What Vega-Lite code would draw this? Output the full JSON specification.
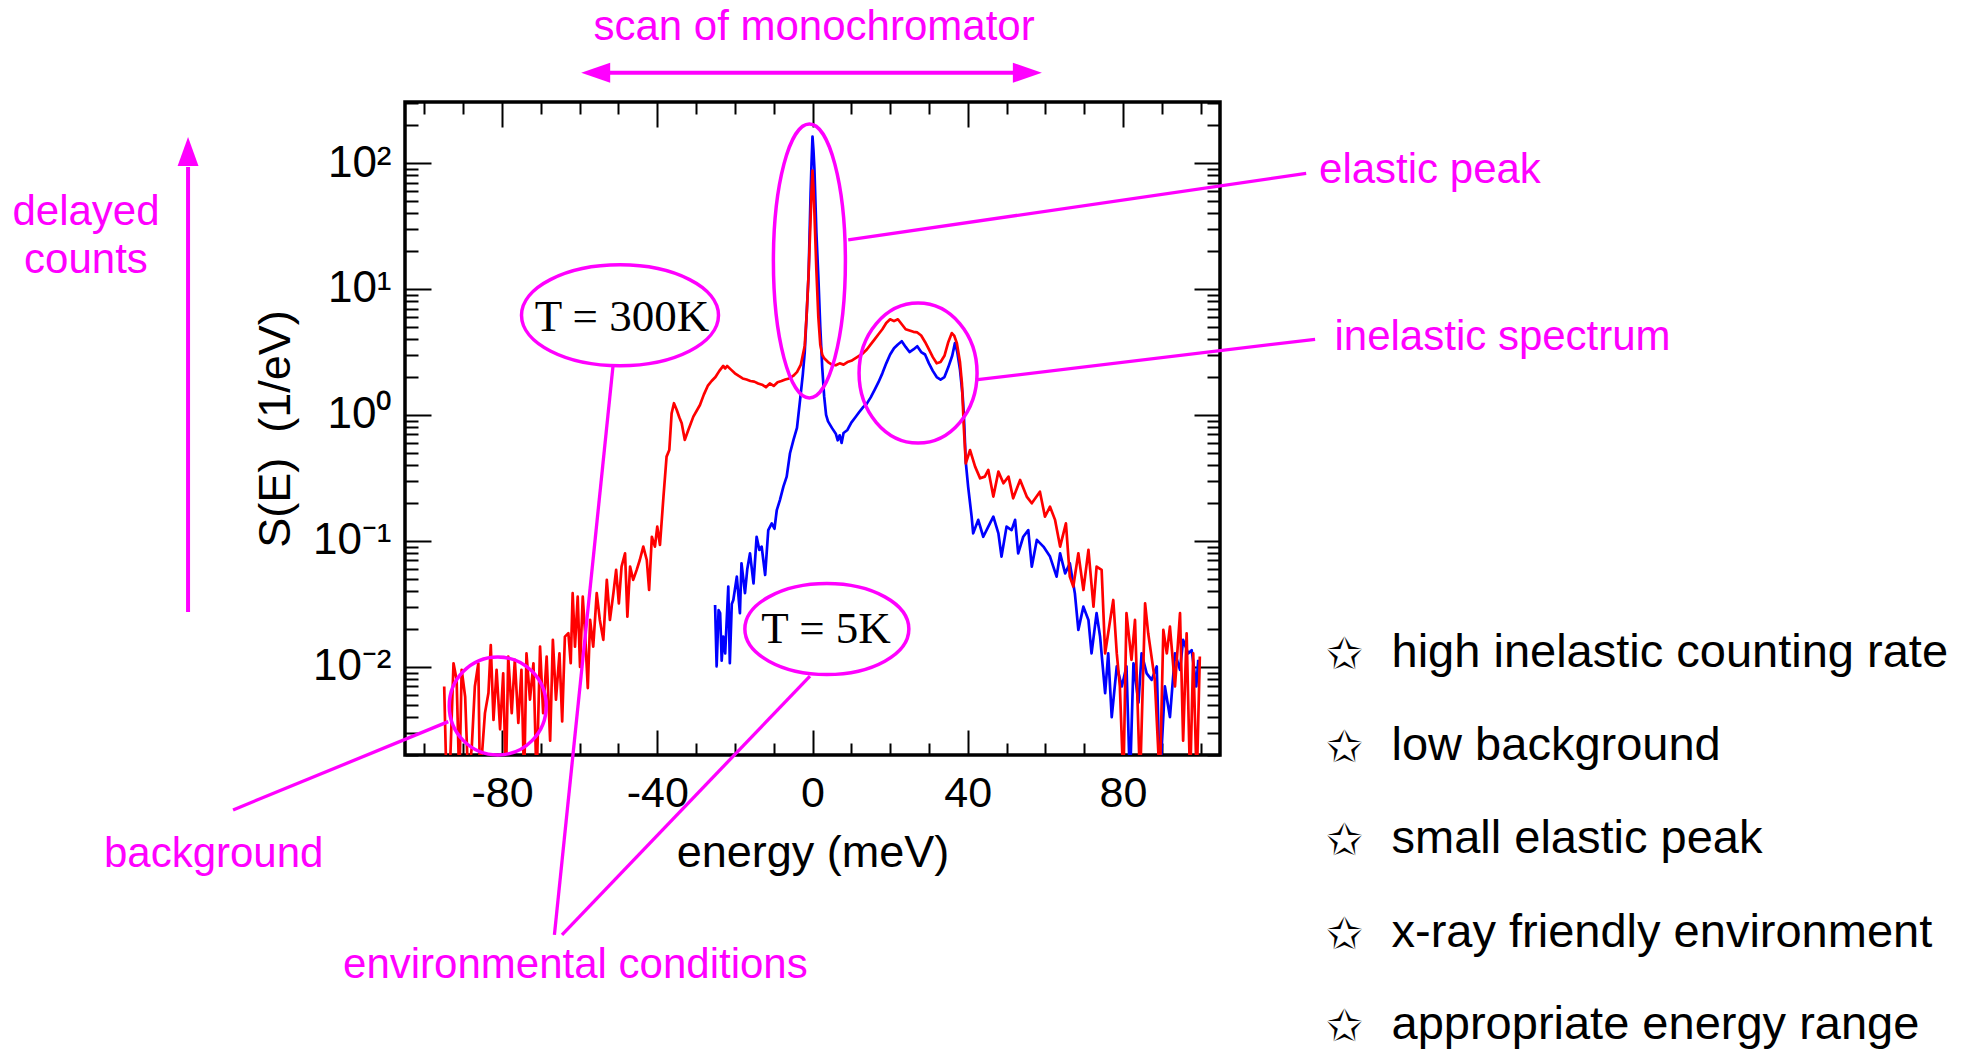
{
  "$schema": "https://vega.github.io/schema/vega-lite/v6.json",
  "width": 815,
  "height": 653,
  "autosize": {"type": "none"},
  "padding": {"left": 405, "top": 102, "right": 746, "bottom": 296},
  "background": "white",
  "config": {
    "view": {"stroke": "black", "strokeWidth": 3.5},
    "font": "Liberation Sans"
  },
  "datasets": {
    "T5K": [
      {"E":-25.1,"S":0.031},{"E":-24.7,"S":0.0101},{"E":-24.2,"S":0.0282},{"E":-23.8,"S":0.0267},{"E":-23.4,"S":0.0112},{"E":-23.0,"S":0.0174},{"E":-22.5,"S":0.0128},{"E":-21.7,"S":0.0435},{"E":-21.3,"S":0.0107},{"E":-20.8,"S":0.0316},{"E":-20.4,"S":0.034},{"E":-19.5,"S":0.0521},{"E":-18.7,"S":0.0267},{"E":-18.3,"S":0.0665},{"E":-17.4,"S":0.0385},{"E":-16.8,"S":0.06},{"E":-16.1,"S":0.0798},{"E":-15.2,"S":0.0461},{"E":-14.4,"S":0.108},{"E":-13.7,"S":0.085},{"E":-13.1,"S":0.0902},{"E":-12.2,"S":0.0537},{"E":-11.4,"S":0.122},{"E":-10.5,"S":0.138},{"E":-9.8,"S":0.125},{"E":-9.2,"S":0.176},{"E":-8.4,"S":0.211},{"E":-7.5,"S":0.27},{"E":-6.65,"S":0.324},{"E":-5.8,"S":0.497},{"E":-4.9,"S":0.634},{"E":-4.0,"S":0.79},{"E":-3.2,"S":1.32},{"E":-2.5,"S":2.09},{"E":-2.0,"S":3.16},{"E":-1.5,"S":6.31},{"E":-1.0,"S":13.2},{"E":-0.5,"S":56},{"E":-0.25,"S":100},{"E":0,"S":162},{"E":0.25,"S":126},{"E":0.5,"S":89},{"E":1.0,"S":28},{"E":1.5,"S":12.6},{"E":2.0,"S":5.0},{"E":2.5,"S":2.4},{"E":3.0,"S":1.41},{"E":3.5,"S":1.0},{"E":4.0,"S":0.89},{"E":5.0,"S":0.79},{"E":6.0,"S":0.71},{"E":6.5,"S":0.63},{"E":7.0,"S":0.69},{"E":7.5,"S":0.6},{"E":8.0,"S":0.72},{"E":9.0,"S":0.76},{"E":10.0,"S":0.87},{"E":11.0,"S":0.955},{"E":12.0,"S":1.05},{"E":13.0,"S":1.15},{"E":14.0,"S":1.23},{"E":15.0,"S":1.38},{"E":16.0,"S":1.58},{"E":17.0,"S":1.82},{"E":18.0,"S":2.14},{"E":19.0,"S":2.57},{"E":20.0,"S":3.02},{"E":21.0,"S":3.39},{"E":22.0,"S":3.63},{"E":23.0,"S":3.85},{"E":24.0,"S":3.47},{"E":25.0,"S":3.16},{"E":26.0,"S":3.31},{"E":27.0,"S":3.51},{"E":28.0,"S":3.16},{"E":29.0,"S":3.02},{"E":30.0,"S":2.57},{"E":31.0,"S":2.24},{"E":32.0,"S":2.0},{"E":33.0,"S":1.91},{"E":34.0,"S":2.0},{"E":35.0,"S":2.4},{"E":36.0,"S":2.95},{"E":36.7,"S":3.72},{"E":37.3,"S":3.16},{"E":38.0,"S":2.29},{"E":38.7,"S":1.41},{"E":39.0,"S":1.0},{"E":39.5,"S":0.42},{"E":40.1,"S":0.27},{"E":41.0,"S":0.156},{"E":41.4,"S":0.115},{"E":42.7,"S":0.147},{"E":44.0,"S":0.108},{"E":45.3,"S":0.13},{"E":46.6,"S":0.156},{"E":47.9,"S":0.115},{"E":48.7,"S":0.0752},{"E":50.0,"S":0.13},{"E":51.3,"S":0.122},{"E":52.2,"S":0.147},{"E":53.0,"S":0.0798},{"E":54.3,"S":0.108},{"E":55.6,"S":0.122},{"E":56.5,"S":0.0625},{"E":57.8,"S":0.102},{"E":59.5,"S":0.0902},{"E":61.2,"S":0.0752},{"E":62.9,"S":0.0521},{"E":63.8,"S":0.0798},{"E":65.1,"S":0.0553},{"E":66.3,"S":0.0665},{"E":67.6,"S":0.0385},{"E":68.5,"S":0.0197},{"E":69.8,"S":0.0301},{"E":71.1,"S":0.0236},{"E":71.9,"S":0.0128},{"E":73.2,"S":0.0267},{"E":74.1,"S":0.0174},{"E":75.4,"S":0.0062},{"E":76.2,"S":0.0128},{"E":77.1,"S":0.004},{"E":78.4,"S":0.0101},{"E":79.7,"S":0.007},{"E":80.9,"S":0.0101},{"E":81.8,"S":0.0012},{"E":82.7,"S":0.0107},{"E":84.0,"S":0.0052},{"E":84.8,"S":0.0128},{"E":86.1,"S":0.0089},{"E":87.4,"S":0.0079},{"E":88.7,"S":0.0101},{"E":89.5,"S":0.0012},{"E":90.8,"S":0.007},{"E":92.1,"S":0.004},{"E":93.4,"S":0.0128},{"E":94.7,"S":0.0095},{"E":95.5,"S":0.0164},{"E":96.8,"S":0.0128},{"E":97.7,"S":0.0136},{"E":98.9,"S":0.007},{"E":99.4,"S":0.0114}
    ],
    "T300K": [
      {"E":-94.9,"S":0.007},{"E":-94.3,"S":0.0012},{"E":-93.4,"S":0.0016},{"E":-92.5,"S":0.0107},{"E":-91.7,"S":0.0079},{"E":-91.0,"S":0.0012},{"E":-90.4,"S":0.0095},{"E":-89.5,"S":0.0058},{"E":-88.7,"S":0.0012},{"E":-87.8,"S":0.0023},{"E":-87.0,"S":0.007},{"E":-86.1,"S":0.0107},{"E":-85.7,"S":0.0012},{"E":-84.4,"S":0.0043},{"E":-83.5,"S":0.0062},{"E":-82.9,"S":0.0149},{"E":-82.2,"S":0.0038},{"E":-81.4,"S":0.0095},{"E":-80.5,"S":0.0032},{"E":-79.7,"S":0.0089},{"E":-79.0,"S":0.0012},{"E":-78.4,"S":0.0121},{"E":-77.5,"S":0.0043},{"E":-76.7,"S":0.0114},{"E":-75.8,"S":0.0036},{"E":-75.0,"S":0.0095},{"E":-74.3,"S":0.0012},{"E":-73.7,"S":0.0128},{"E":-72.8,"S":0.0055},{"E":-71.9,"S":0.0107},{"E":-71.1,"S":0.0012},{"E":-70.2,"S":0.0145},{"E":-69.4,"S":0.0043},{"E":-68.5,"S":0.0121},{"E":-67.6,"S":0.0026},{"E":-66.9,"S":0.0164},{"E":-66.1,"S":0.0055},{"E":-65.2,"S":0.0128},{"E":-64.5,"S":0.0037},{"E":-63.8,"S":0.0174},{"E":-62.9,"S":0.0185},{"E":-62.3,"S":0.0107},{"E":-61.8,"S":0.0385},{"E":-61.2,"S":0.0145},{"E":-60.5,"S":0.0361},{"E":-59.9,"S":0.01},{"E":-59.2,"S":0.0361},{"E":-58.6,"S":0.0185},{"E":-57.9,"S":0.0068},{"E":-57.3,"S":0.0236},{"E":-56.5,"S":0.0145},{"E":-55.6,"S":0.0385},{"E":-54.8,"S":0.0236},{"E":-53.9,"S":0.0164},{"E":-53.0,"S":0.0491},{"E":-52.2,"S":0.0236},{"E":-51.3,"S":0.0385},{"E":-50.6,"S":0.0589},{"E":-49.9,"S":0.032},{"E":-49.2,"S":0.0625},{"E":-48.3,"S":0.0798},{"E":-47.7,"S":0.0251},{"E":-47.0,"S":0.0625},{"E":-46.2,"S":0.0491},{"E":-45.3,"S":0.0589},{"E":-44.5,"S":0.0706},{"E":-43.6,"S":0.0902},{"E":-42.7,"S":0.0706},{"E":-42.1,"S":0.0408},{"E":-41.4,"S":0.108},{"E":-40.6,"S":0.0902},{"E":-40.0,"S":0.13},{"E":-39.3,"S":0.0929},{"E":-38.4,"S":0.225},{"E":-37.6,"S":0.467},{"E":-36.9,"S":0.527},{"E":-36.3,"S":1.03},{"E":-35.7,"S":1.24},{"E":-35.0,"S":1.1},{"E":-34.3,"S":0.955},{"E":-33.7,"S":0.859},{"E":-32.9,"S":0.634},{"E":-32.0,"S":0.76},{"E":-30.7,"S":0.97},{"E":-29.0,"S":1.2},{"E":-28.0,"S":1.45},{"E":-27.0,"S":1.7},{"E":-26.0,"S":1.86},{"E":-25.0,"S":2.0},{"E":-24.0,"S":2.24},{"E":-23.0,"S":2.45},{"E":-22.5,"S":2.34},{"E":-22.0,"S":2.45},{"E":-21.0,"S":2.29},{"E":-20.0,"S":2.14},{"E":-19.0,"S":2.04},{"E":-18.0,"S":1.95},{"E":-17.0,"S":1.91},{"E":-16.0,"S":1.86},{"E":-15.0,"S":1.84},{"E":-14.0,"S":1.78},{"E":-13.0,"S":1.74},{"E":-12.0,"S":1.66},{"E":-11.0,"S":1.78},{"E":-10.0,"S":1.7},{"E":-9.0,"S":1.82},{"E":-8.0,"S":1.86},{"E":-7.0,"S":1.91},{"E":-6.0,"S":1.95},{"E":-5.0,"S":2.04},{"E":-4.0,"S":2.19},{"E":-3.0,"S":2.51},{"E":-2.0,"S":3.55},{"E":-1.5,"S":6.31},{"E":-1.0,"S":13.2},{"E":-0.5,"S":35.5},{"E":-0.25,"S":60},{"E":0,"S":87},{"E":0.25,"S":63},{"E":0.5,"S":40},{"E":1.0,"S":14.1},{"E":1.5,"S":6.0},{"E":2.0,"S":3.63},{"E":2.5,"S":3.02},{"E":3.0,"S":2.82},{"E":4.0,"S":2.63},{"E":5.0,"S":2.51},{"E":6.0,"S":2.48},{"E":7.0,"S":2.57},{"E":8.0,"S":2.51},{"E":9.0,"S":2.63},{"E":10.0,"S":2.69},{"E":11.0,"S":2.82},{"E":12.0,"S":2.95},{"E":13.0,"S":3.09},{"E":14.0,"S":3.31},{"E":15.0,"S":3.63},{"E":16.0,"S":3.98},{"E":17.0,"S":4.37},{"E":18.0,"S":4.79},{"E":19.0,"S":5.37},{"E":20.0,"S":5.75},{"E":21.0,"S":5.56},{"E":22.0,"S":5.75},{"E":23.0,"S":5.25},{"E":24.0,"S":4.79},{"E":25.0,"S":4.68},{"E":26.0,"S":4.57},{"E":27.0,"S":4.52},{"E":28.0,"S":4.27},{"E":29.0,"S":3.8},{"E":30.0,"S":3.31},{"E":31.0,"S":2.88},{"E":32.0,"S":2.57},{"E":33.0,"S":2.63},{"E":34.0,"S":2.95},{"E":35.0,"S":3.8},{"E":35.9,"S":4.47},{"E":36.5,"S":4.27},{"E":37.2,"S":3.72},{"E":38.0,"S":2.63},{"E":38.5,"S":1.78},{"E":39.0,"S":0.79},{"E":39.5,"S":0.413},{"E":40.6,"S":0.527},{"E":41.9,"S":0.389},{"E":43.2,"S":0.314},{"E":44.4,"S":0.324},{"E":45.3,"S":0.366},{"E":46.6,"S":0.225},{"E":47.9,"S":0.355},{"E":49.2,"S":0.287},{"E":50.5,"S":0.324},{"E":51.7,"S":0.218},{"E":53.5,"S":0.305},{"E":55.2,"S":0.225},{"E":56.5,"S":0.199},{"E":58.6,"S":0.246},{"E":59.9,"S":0.156},{"E":61.2,"S":0.187},{"E":62.5,"S":0.147},{"E":63.8,"S":0.0902},{"E":65.3,"S":0.138},{"E":66.3,"S":0.0521},{"E":67.2,"S":0.0435},{"E":68.5,"S":0.0798},{"E":69.8,"S":0.0408},{"E":71.1,"S":0.0849},{"E":72.4,"S":0.0301},{"E":73.2,"S":0.0625},{"E":74.5,"S":0.0589},{"E":75.4,"S":0.0128},{"E":76.7,"S":0.0236},{"E":77.5,"S":0.034},{"E":78.4,"S":0.0128},{"E":79.2,"S":0.007},{"E":80.1,"S":0.0012},{"E":80.9,"S":0.0267},{"E":82.2,"S":0.0114},{"E":83.1,"S":0.0236},{"E":84.4,"S":0.0012},{"E":85.7,"S":0.032},{"E":86.5,"S":0.0185},{"E":88.2,"S":0.0079},{"E":89.5,"S":0.0012},{"E":90.4,"S":0.0197},{"E":91.3,"S":0.0128},{"E":92.1,"S":0.0209},{"E":93.4,"S":0.007},{"E":94.7,"S":0.0267},{"E":95.5,"S":0.0026},{"E":96.4,"S":0.0185},{"E":97.3,"S":0.0012},{"E":98.1,"S":0.0128},{"E":99.0,"S":0.0012},{"E":99.8,"S":0.0121}
    ],
    "ellipses": [
      {"name":"elastic","E":-0.8,"S":16.67},
      {"name":"inelastic","E":27.2,"S":2.153},
      {"name":"T300","E":-49.6,"S":6.18},
      {"name":"T5","E":3.7,"S":0.02},
      {"name":"bg","E":-81.1,"S":0.0049}
    ],
    "connectors": [
      {"E":9.2,"S":24.5,"E2":127.2,"S2":82.8},
      {"E":42.0,"S":1.897,"E2":129.5,"S2":3.99},
      {"E":-93.84,"S":0.00368,"E2":-149.3,"S2":0.000733},
      {"E":-51.4,"S":2.45,"E2":-66.5,"S2":0.0000746},
      {"E":-0.65,"S":0.00847,"E2":-64.55,"S2":0.0000746}
    ],
    "shafts": [
      {"E":-56,"S":520.7,"E2":55.5,"S2":520.7},
      {"E":-160.9,"S":0.0273,"E2":-160.9,"S2":92.9}
    ],
    "heads": [
      {"dir":"left","E":-59.6,"S":520.7},
      {"dir":"right","E":59.1,"S":520.7},
      {"dir":"up","E":-160.9,"S":160.7}
    ],
    "notes": [
      {"label":"scan of monochromator","E":0.4,"S":946},
      {"label":"delayed","E":-187.2,"S":32.2},
      {"label":"counts","E":-187.2,"S":13.4},
      {"label":"elastic peak","E":159.1,"S":69.0},
      {"label":"inelastic spectrum","E":177.8,"S":3.28},
      {"label":"background","E":-154.3,"S":0.00026},
      {"label":"environmental conditions","E":-61.1,"S":0.0000342}
    ],
    "temps": [
      {"label":"T = 300K","E":-49.1,"S":4.65},
      {"label":"T = 5K","E":3.5,"S":0.0156}
    ],
    "list": [
      {"item":"high inelastic counting rate","E":149.2,"S":0.01005},
      {"item":"low background","E":149.2,"S":0.001828},
      {"item":"small elastic peak","E":149.2,"S":0.000334},
      {"item":"x-ray friendly environment","E":149.2,"S":0.0000603},
      {"item":"appropriate energy range","E":149.2,"S":0.00001114}
    ]
  },
  "resolve": {"axis": {"x": "independent", "y": "independent"}, "scale": {"shape": "independent"}},
  "layer": [
    {
      "data": {"name": "T5K"},
      "mark": {"type": "line", "color": "#0000ff", "strokeWidth": 2.7, "clip": true, "strokeJoin": "round"},
      "encoding": {
        "x": {"field": "E", "type": "quantitative",
          "scale": {"domain": [-105, 105], "nice": false, "zero": false},
          "axis": {
            "orient": "bottom",
            "values": [-100,-90,-80,-70,-60,-50,-40,-30,-20,-10,0,10,20,30,40,50,60,70,80,90,100],
            "domain": false, "grid": false,
            "tickColor": "black", "tickWidth": 2,
            "tickSize": {"condition": {"test": "datum.value % 40 === 0", "value": -25}, "value": -12},
            "labelExpr": "datum.value % 40 === 0 ? toString(datum.value) : ''",
            "labelFont": "Liberation Sans", "labelFontSize": 43, "labelColor": "black",
            "labelPadding": 42, "labelFlush": false, "labelOverlap": false,
            "title": "energy (meV)", "titleFont": "Liberation Sans", "titleFontSize": 45,
            "titleFontWeight": "normal", "titleColor": "black", "titlePadding": 2
          }
        },
        "y": {"field": "S", "type": "quantitative",
          "scale": {"type": "log", "domain": [0.002, 305], "nice": false},
          "axis": {
            "orient": "left",
            "values": [0.002,0.003,0.004,0.005,0.006,0.007,0.008,0.009,0.01,0.02,0.03,0.04,0.05,0.06,0.07,0.08,0.09,0.1,0.2,0.3,0.4,0.5,0.6,0.7,0.8,0.9,1,2,3,4,5,6,7,8,9,10,20,30,40,50,60,70,80,90,100,200,300],
            "domain": false, "grid": false,
            "tickColor": "black", "tickWidth": 2,
            "tickSize": {"condition": {"test": "abs(log(datum.value)/LN10 - round(log(datum.value)/LN10)) < 0.001", "value": -26}, "value": -13},
            "labelExpr": "abs(log(datum.value)/LN10 - round(log(datum.value)/LN10)) < 0.001 ? (datum.value > 50 ? '10²' : datum.value > 5 ? '10¹' : datum.value > 0.5 ? '10⁰' : datum.value > 0.05 ? '10⁻¹' : '10⁻²') : ''",
            "labelFont": "Liberation Sans", "labelFontSize": 44, "labelColor": "black",
            "labelPadding": 40, "labelFlush": false, "labelOverlap": false,
            "title": "S(E)\u00a0 (1/eV)", "titleFont": "Liberation Sans", "titleFontSize": 45,
            "titleFontWeight": "normal", "titleColor": "black", "titlePadding": 14
          }
        }
      }
    },
    {
      "data": {"name": "T300K"},
      "mark": {"type": "line", "color": "#ff0000", "strokeWidth": 2.7, "clip": true, "strokeJoin": "round"},
      "encoding": {
        "x": {"field": "E", "type": "quantitative",
          "scale": {"domain": [-105, 105], "nice": false, "zero": false},
          "axis": {
            "orient": "top",
            "values": [-100,-90,-80,-70,-60,-50,-40,-30,-20,-10,0,10,20,30,40,50,60,70,80,90,100],
            "domain": false, "grid": false, "labels": false, "title": null,
            "tickColor": "black", "tickWidth": 2,
            "tickSize": {"condition": {"test": "datum.value % 40 === 0", "value": -25}, "value": -12}
          }
        },
        "y": {"field": "S", "type": "quantitative",
          "scale": {"type": "log", "domain": [0.002, 305], "nice": false},
          "axis": {
            "orient": "right",
            "values": [0.002,0.003,0.004,0.005,0.006,0.007,0.008,0.009,0.01,0.02,0.03,0.04,0.05,0.06,0.07,0.08,0.09,0.1,0.2,0.3,0.4,0.5,0.6,0.7,0.8,0.9,1,2,3,4,5,6,7,8,9,10,20,30,40,50,60,70,80,90,100,200,300],
            "domain": false, "grid": false, "labels": false, "title": null,
            "tickColor": "black", "tickWidth": 2,
            "tickSize": {"condition": {"test": "abs(log(datum.value)/LN10 - round(log(datum.value)/LN10)) < 0.001", "value": -26}, "value": -13}
          }
        }
      }
    },
    {
      "data": {"name": "ellipses"},
      "mark": {"type": "point", "filled": false, "color": "#ff00ff", "strokeWidth": 3.5, "size": 40000, "opacity": 1},
      "encoding": {
        "x": {"field": "E", "type": "quantitative", "axis": null},
        "y": {"field": "S", "type": "quantitative", "axis": null},
        "shape": {"field": "name", "type": "nominal", "legend": null,
          "scale": {
            "domain": ["elastic", "inelastic", "T300", "T5", "bg"],
            "range": [
              "M 0.36 0 C 0.36 0.757 0.199 1.37 0 1.37 C -0.199 1.37 -0.36 0.757 -0.36 0 C -0.36 -0.757 -0.199 -1.37 0 -1.37 C 0.199 -1.37 0.36 -0.757 0.36 0 Z",
              "M 0.59 0 C 0.59 0.387 0.326 0.7 0 0.7 C -0.326 0.7 -0.59 0.387 -0.59 0 C -0.59 -0.387 -0.326 -0.7 0 -0.7 C 0.326 -0.7 0.59 -0.387 0.59 0 Z",
              "M 0.985 0 C 0.985 0.279 0.544 0.505 0 0.505 C -0.544 0.505 -0.985 0.279 -0.985 0 C -0.985 -0.279 -0.544 -0.505 0 -0.505 C 0.544 -0.505 0.985 -0.279 0.985 0 Z",
              "M 0.82 0 C 0.82 0.251 0.453 0.455 0 0.455 C -0.453 0.455 -0.82 0.251 -0.82 0 C -0.82 -0.251 -0.453 -0.455 0 -0.455 C 0.453 -0.455 0.82 -0.251 0.82 0 Z",
              "M 0.485 0 C 0.485 0.271 0.268 0.49 0 0.49 C -0.268 0.49 -0.485 0.271 -0.485 0 C -0.485 -0.271 -0.268 -0.49 0 -0.49 C 0.268 -0.49 0.485 -0.271 0.485 0 Z"
            ]
          }
        }
      }
    },
    {
      "data": {"name": "connectors"},
      "mark": {"type": "rule", "color": "#ff00ff", "strokeWidth": 3.3},
      "encoding": {
        "x": {"field": "E", "type": "quantitative", "axis": null},
        "y": {"field": "S", "type": "quantitative", "axis": null},
        "x2": {"field": "E2"},
        "y2": {"field": "S2"}
      }
    },
    {
      "data": {"name": "shafts"},
      "mark": {"type": "rule", "color": "#ff00ff", "strokeWidth": 4},
      "encoding": {
        "x": {"field": "E", "type": "quantitative", "axis": null},
        "y": {"field": "S", "type": "quantitative", "axis": null},
        "x2": {"field": "E2"},
        "y2": {"field": "S2"}
      }
    },
    {
      "data": {"name": "heads"},
      "mark": {"type": "point", "filled": true, "color": "#ff00ff", "size": 841, "opacity": 1, "strokeWidth": 0},
      "encoding": {
        "x": {"field": "E", "type": "quantitative", "axis": null},
        "y": {"field": "S", "type": "quantitative", "axis": null},
        "shape": {"field": "dir", "type": "nominal", "legend": null,
          "scale": {
            "domain": ["left", "right", "up"],
            "range": ["M 0 0 L 2 -0.69 L 2 0.69 Z", "M 0 0 L -2 -0.69 L -2 0.69 Z", "M 0 0 L -0.72 2 L 0.72 2 Z"]
          }
        }
      }
    },
    {
      "data": {"name": "notes"},
      "mark": {"type": "text", "font": "Liberation Sans", "fontSize": 42, "color": "#ff00ff", "align": "center", "baseline": "alphabetic"},
      "encoding": {
        "x": {"field": "E", "type": "quantitative", "axis": null},
        "y": {"field": "S", "type": "quantitative", "axis": null},
        "text": {"field": "label"}
      }
    },
    {
      "data": {"name": "temps"},
      "mark": {"type": "text", "font": "Liberation Serif", "fontSize": 45, "color": "black", "align": "center", "baseline": "alphabetic"},
      "encoding": {
        "x": {"field": "E", "type": "quantitative", "axis": null},
        "y": {"field": "S", "type": "quantitative", "axis": null},
        "text": {"field": "label"}
      }
    },
    {
      "data": {"name": "list"},
      "mark": {"type": "text", "font": "Liberation Sans", "fontSize": 47, "color": "black", "align": "left", "baseline": "alphabetic"},
      "encoding": {
        "x": {"field": "E", "type": "quantitative", "axis": null},
        "y": {"field": "S", "type": "quantitative", "axis": null},
        "text": {"field": "item"}
      }
    },
    {
      "data": {"name": "list"},
      "mark": {"type": "text", "font": "DejaVu Sans", "fontSize": 44, "color": "black", "align": "center", "baseline": "alphabetic", "dx": -47, "dy": 2, "text": "✩"},
      "encoding": {
        "x": {"field": "E", "type": "quantitative", "axis": null},
        "y": {"field": "S", "type": "quantitative", "axis": null}
      }
    }
  ]
}
